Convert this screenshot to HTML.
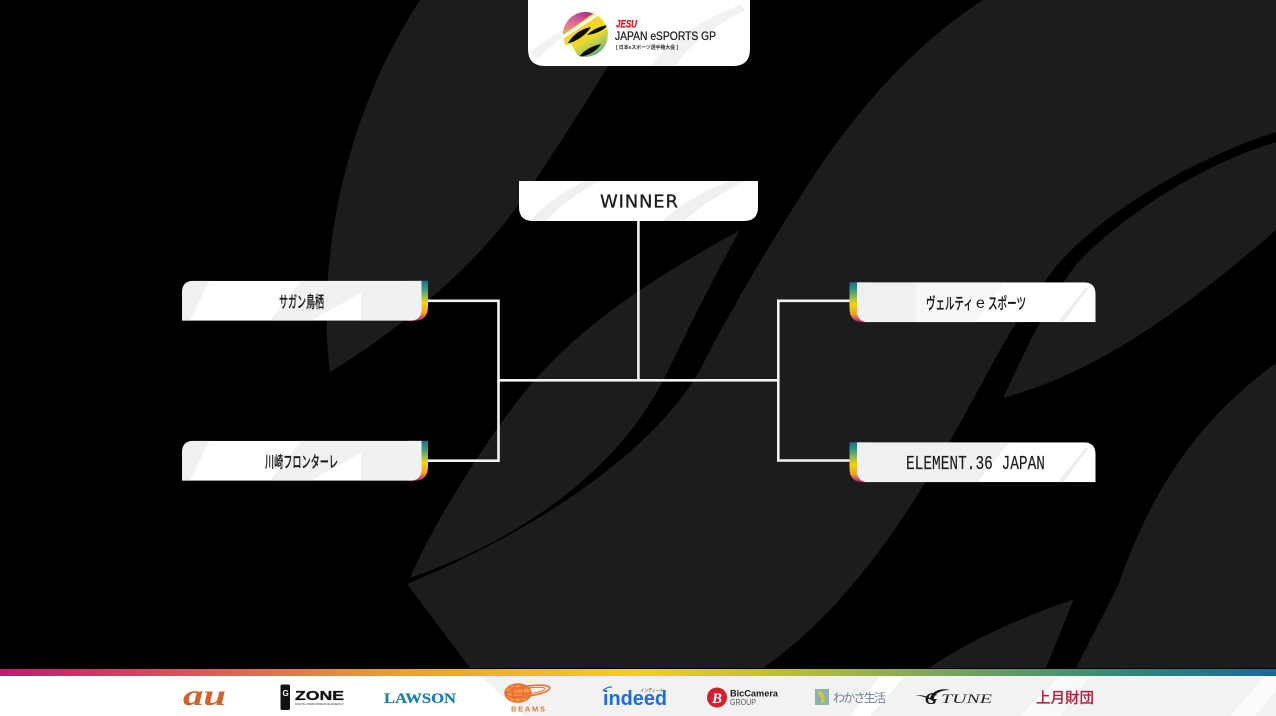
<!DOCTYPE html>
<html lang="ja">
<head>
<meta charset="utf-8">
<title>JAPAN eSPORTS GP Bracket</title>
<style>
html,body{margin:0;padding:0;background:#000;width:1276px;height:716px;overflow:hidden}
svg{display:block}
.jp{font-family:"Liberation Sans","Noto Sans CJK JP",sans-serif}
</style>
</head>
<body>
<svg width="1276" height="716" viewBox="0 0 1276 716" xmlns="http://www.w3.org/2000/svg">
<defs>
<linearGradient id="edge" x1="0" y1="0" x2="0" y2="1">
<stop offset="0" stop-color="#12708f"/><stop offset=".25" stop-color="#4aa37a"/><stop offset=".55" stop-color="#f5d312"/><stop offset=".8" stop-color="#f0a030"/><stop offset="1" stop-color="#b81a78"/>
</linearGradient>
<linearGradient id="bar" x1="0" y1="0" x2="1" y2="0">
<stop offset="0" stop-color="#c21a70"/><stop offset=".13" stop-color="#d2505c"/><stop offset=".3" stop-color="#e99a38"/><stop offset=".5" stop-color="#f5cf18"/><stop offset=".65" stop-color="#a9b842"/><stop offset=".88" stop-color="#2f8a78"/><stop offset="1" stop-color="#166a9c"/>
</linearGradient>
<linearGradient id="body" x1="0.2" y1="0" x2="0.8" y2="1">
<stop offset="0" stop-color="#f5d820"/><stop offset=".6" stop-color="#ecd92e"/><stop offset=".82" stop-color="#9cc866"/><stop offset="1" stop-color="#2fa39a"/>
</linearGradient>
<linearGradient id="cres" x1="0" y1="1" x2="0.7" y2="0">
<stop offset="0" stop-color="#f0c040"/><stop offset=".45" stop-color="#e0709a"/><stop offset="1" stop-color="#9a1f86"/>
</linearGradient>
<clipPath id="cLogo"><path d="M528 0H750V49Q750 66 733 66H545Q528 66 528 49Z"/></clipPath>
<clipPath id="cWin"><path d="M519 181H758V207Q758 221 744 221H533Q519 221 519 207Z"/></clipPath>
<clipPath id="cL"><path d="M12 0H239.5V28Q239.5 40 227.5 40H0V12Q0 0 12 0Z"/></clipPath>
<clipPath id="cR"><path d="M7.5 0H234Q246 0 246 12V40H19.5Q7.5 40 7.5 28Z"/></clipPath>
<clipPath id="cEmb"><circle cx="585.5" cy="34.5" r="22.5"/></clipPath>
</defs>

<rect width="1276" height="716" fill="#000"/>

<!-- background swooshes -->
<g fill="#1c1b1d">
<path d="M420 0C335 130 318 280 330 372C400 330 475 265 517 207C550 160 590 95 625 40L640 0Z"/>
<path d="M983 0C905 50 845 125 800 197C760 260 725 320 700 370C660 440 560 520 407 584L470 668H763C860 600 925 490 989 370C1015 322 1038 288 1060 262C1105 212 1190 160 1276 132V0Z"/>
<path d="M1003 398C1028 345 1052 292 1082 258C1125 215 1200 165 1276 142V230C1190 305 1100 372 1003 398Z"/>
<path d="M1276 363C1205 415 1155 480 1119 583C1105 612 1090 640 1076 668H1276Z"/>
<path d="M1074 599C1020 618 970 640 929 668H1046Z"/>
<path d="M740 230C650 280 570 330 513 407C480 450 430 530 410 578C520 540 620 470 667 373C690 325 715 275 740 230Z"/>
</g>

<!-- connector lines -->
<g fill="none" stroke="#f3f3f3" stroke-width="2.6">
<path d="M428 300.8H498.5V460.7H428"/>
<path d="M850 300.8H778.3V460.5H850"/>
<path d="M498.5 380.3H778.3"/>
<path d="M638.4 221V380.3"/>
</g>

<!-- logo panel -->
<g clip-path="url(#cLogo)">
<rect x="528" y="0" width="222" height="66" fill="#fff"/>
<path d="M530 52C545 40 560 30 575 24L575 32C560 38 545 50 538 60Z" fill="#f3f2f2"/>
<path d="M650 66C670 40 705 18 740 5L746 10C715 25 690 45 675 66Z" fill="#f3f2f2"/>
</g>
<g clip-path="url(#cEmb)">
<circle cx="585.5" cy="34.5" r="22.5" fill="url(#body)"/>
<path d="M558 38L598 10L590 5L558 8Z" fill="url(#cres)"/>
<path d="M560 39L601 12" stroke="#fff" stroke-width="3" fill="none"/>
<path d="M560 47L571 44L579 58L560 62Z" fill="#fff"/>
<path d="M568 43C574 33 584 28 591 27C586 35 577 41 569 43Z" fill="#0b0b0b"/>
<path d="M587 35C593 29 601 26 608 25C603 31 595 34 587 35Z" fill="#0b0b0b"/>
<path d="M579 57C584 50 592 46 601 44C597 51 588 56 579 57Z" fill="#0b0b0b"/>
</g>
<text x="616" y="27.5" font-family="'Liberation Sans',sans-serif" font-size="11" font-weight="700" font-style="italic" fill="#e5121e" stroke="#e5121e" stroke-width=".3" textLength="21" lengthAdjust="spacingAndGlyphs">JESU</text>
<text x="615" y="40" font-family="'Liberation Sans',sans-serif" font-size="12" fill="#1a1a1a" stroke="#1a1a1a" stroke-width=".25" textLength="101" lengthAdjust="spacingAndGlyphs">JAPAN eSPORTS GP</text>
<text x="616" y="49" class="jp" font-size="5" font-weight="700" fill="#333" textLength="62" lengthAdjust="spacing">[ 日本eスポーツ選手権大会 ]</text>

<!-- winner panel -->
<g clip-path="url(#cWin)">
<rect x="519" y="181" width="239" height="40" fill="#fff"/>
<path d="M530 221C545 205 565 190 585 181H600C580 192 560 205 546 221Z" fill="#f1f0f0"/>
<path d="M662 221C680 205 705 190 730 181H745C725 192 700 205 685 221Z" fill="#f1f0f0"/>
</g>
<text x="600" y="207.5" font-family="'DejaVu Sans',sans-serif" font-size="18" fill="#1c1c1c" stroke="#1c1c1c" stroke-width=".3" textLength="78" lengthAdjust="spacing">WINNER</text>

<!-- left team 1 -->
<g transform="translate(182 280.8)">
<path d="M225 0H246V26Q246 40 232 40H225Z" fill="url(#edge)"/>
<g clip-path="url(#cL)">
<rect width="240" height="40" fill="#fff"/>
<path d="M0 0H27L8 40H0Z" fill="#f1f0f0"/>
<path d="M88 40L119 0H240V40H179V12L129 40Z" fill="#f2f1f1"/>
</g>
</g>
<text x="279" y="307.5" class="jp" font-size="16" font-weight="500" fill="#1c1c1c" stroke="#1c1c1c" stroke-width=".2" textLength="45" lengthAdjust="spacingAndGlyphs">サガン鳥栖</text>

<!-- left team 2 -->
<g transform="translate(182 440.8)">
<path d="M225 0H246V26Q246 40 232 40H225Z" fill="url(#edge)"/>
<g clip-path="url(#cL)">
<rect width="240" height="40" fill="#fff"/>
<path d="M0 0H27L8 40H0Z" fill="#f1f0f0"/>
<path d="M88 40L119 0H240V40H179V12L129 40Z" fill="#f2f1f1"/>
</g>
</g>
<text x="265" y="467.5" class="jp" font-size="16" font-weight="500" fill="#1c1c1c" stroke="#1c1c1c" stroke-width=".2" textLength="73" lengthAdjust="spacingAndGlyphs">川崎フロンターレ</text>

<!-- right team 1 -->
<g transform="translate(849.5 282.2)">
<path d="M0 0H20V40H14Q0 40 0 26Z" fill="url(#edge)"/>
<g clip-path="url(#cR)">
<rect width="246" height="40" fill="#fff"/>
<path d="M0 0H66V40H0Z" fill="#f1f0f0"/>
<path d="M66 0H130L155 0L125 40H66Z" fill="#f8f7f7"/>
<path d="M208 40L236 6L239 6L214 40Z" fill="#ededed"/>
</g>
</g>
<text x="926" y="309" class="jp" font-size="16" font-weight="500" fill="#1c1c1c" stroke="#1c1c1c" stroke-width=".2" textLength="47" lengthAdjust="spacingAndGlyphs">ヴェルティ</text>
<text x="976" y="308" font-family="'Liberation Sans',sans-serif" font-size="16" fill="#1c1c1c" textLength="9">e</text>
<text x="988" y="309" class="jp" font-size="16" font-weight="500" fill="#1c1c1c" stroke="#1c1c1c" stroke-width=".2" textLength="38" lengthAdjust="spacingAndGlyphs">スポーツ</text>

<!-- right team 2 -->
<g transform="translate(849.5 442.2)">
<path d="M0 0H20V40H14Q0 40 0 26Z" fill="url(#edge)"/>
<g clip-path="url(#cR)">
<rect width="246" height="40" fill="#fff"/>
<path d="M0 0H160L128 40H0Z" fill="#f1f0f0"/>
<path d="M208 40L236 6L239 6L214 40Z" fill="#ededed"/>
</g>
</g>
<text x="906" y="469" font-family="'Liberation Mono',monospace" font-size="19" fill="#1c1c1c" stroke="#1c1c1c" stroke-width=".15" textLength="139" lengthAdjust="spacingAndGlyphs">ELEMENT.36 JAPAN</text>

<!-- footer -->
<rect x="0" y="676" width="1276" height="40" fill="#f3f2f2"/>
<path d="M0 676H480L525 716H0Z" fill="#fff"/>
<path d="M880 676H905L870 716H850Z" fill="#fff"/>
<path d="M1060 676H1090L1060 716H1020Z" fill="#fafafa"/>
<path d="M1230 716L1265 676H1276V690L1255 716Z" fill="#fbfbfb"/>
<rect x="0" y="669" width="1276" height="7" fill="url(#bar)"/>

<!-- sponsors -->
<text x="183" y="705" font-family="'Liberation Serif',serif" font-size="30" font-style="italic" font-weight="700" fill="#d1622c" textLength="43" lengthAdjust="spacingAndGlyphs">au</text>

<rect x="280.5" y="684.5" width="9.5" height="25.5" rx="1.5" fill="#111"/>
<text x="282.5" y="696" font-family="'Liberation Sans',sans-serif" font-size="8" font-weight="700" fill="#fff">G</text>
<text x="295" y="700" font-family="'Liberation Sans',sans-serif" font-size="13" font-weight="700" fill="#111" stroke="#111" stroke-width=".3" textLength="49" lengthAdjust="spacingAndGlyphs">ZONE</text>
<text x="295" y="705" font-family="'Liberation Sans',sans-serif" font-size="3" fill="#333" textLength="49" lengthAdjust="spacingAndGlyphs">DIGITAL PERFORMANCE ENERGY</text>

<text x="384" y="703" font-family="'Liberation Serif',serif" font-size="15" font-weight="700" fill="#1b7fae" stroke="#1b7fae" stroke-width=".2" textLength="72" lengthAdjust="spacingAndGlyphs">LAWSON</text>

<g fill="none" stroke="#e8702a">
<ellipse cx="518" cy="693" rx="13" ry="9" fill="#f2a060" stroke-width="1.4"/>
<ellipse cx="528" cy="691" rx="22" ry="5" stroke-width="1.6" transform="rotate(-8 528 691)"/>
<ellipse cx="528" cy="691" rx="17" ry="3" stroke-width="1" transform="rotate(-8 528 691)"/>
<ellipse cx="518" cy="693" rx="5.5" ry="9" stroke-width="1.2"/>
<path d="M505 693H531M507 688H529M507 698H529" stroke-width="1.2"/>
</g>
<text x="511" y="711.5" font-family="'Liberation Sans',sans-serif" font-size="7.5" font-weight="700" fill="#d8792f" textLength="34" lengthAdjust="spacing">BEAMS</text>

<text x="603" y="705" font-family="'Liberation Sans',sans-serif" font-size="20" font-weight="700" fill="#1f6ce0" textLength="64" lengthAdjust="spacingAndGlyphs">indeed</text>
<path d="M603 691C605 688 609 687 612 687" stroke="#1f6ce0" stroke-width="1.2" fill="none"/>
<text x="640" y="692" class="jp" font-size="4.5" fill="#333" textLength="24">インディード</text>

<circle cx="717" cy="697.5" r="10" fill="#d2202f"/>
<text x="712" y="703" font-family="'Liberation Serif',serif" font-size="15" font-weight="700" font-style="italic" fill="#fff">B</text>
<text x="730" y="696.5" font-family="'Liberation Sans',sans-serif" font-size="9.5" font-weight="700" fill="#1a1a1a" textLength="48" lengthAdjust="spacingAndGlyphs">BicCamera</text>
<text x="730" y="705" font-family="'Liberation Sans',sans-serif" font-size="8" fill="#555" textLength="26" lengthAdjust="spacingAndGlyphs">GROUP</text>

<rect x="815" y="689" width="14" height="16" fill="#8fb0b0"/>
<path d="M818 691C824 692 826 697 824 703L821 703C822 699 820 695 818 694Z" fill="#c9cf3a"/>
<text x="833" y="702" class="jp" font-size="12" fill="#6a7f96" textLength="53" lengthAdjust="spacing">わかさ生活</text>

<path d="M915 695C922 695 926 696 930 698L932 694C936 690 942 688 950 690C943 690 938 692 935 695L933 701C928 698 922 696 915 695Z" fill="#151515"/>
<text x="925" y="704" font-family="'Liberation Serif',serif" font-size="17" font-weight="700" font-style="italic" fill="#151515">G</text>
<text x="941" y="703" font-family="'Liberation Serif',serif" font-size="13" font-style="italic" fill="#222" textLength="51" lengthAdjust="spacingAndGlyphs">TUNE</text>

<text x="1036" y="703" class="jp" font-size="14.5" font-weight="500" fill="#b31f3c" stroke="#b31f3c" stroke-width=".15" textLength="58" lengthAdjust="spacingAndGlyphs">上月財団</text>
</svg>
</body>
</html>
